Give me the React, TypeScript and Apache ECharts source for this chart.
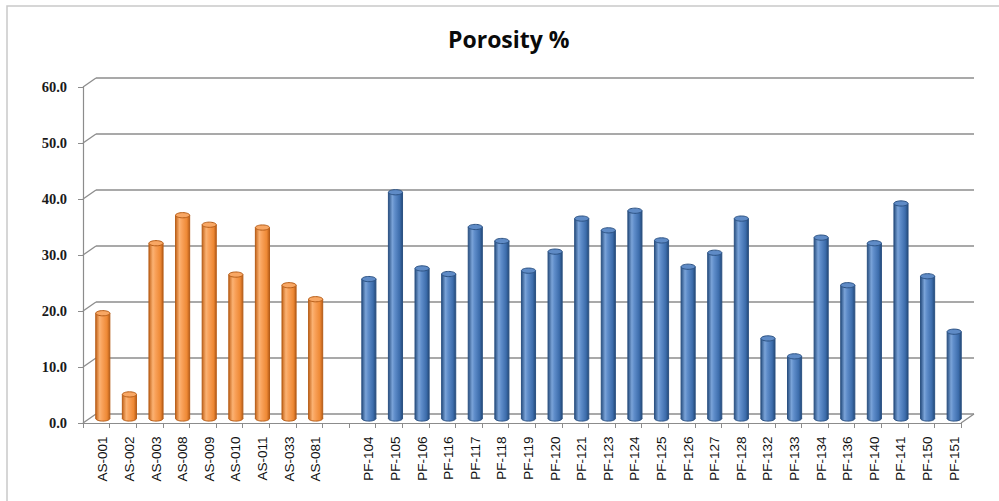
import React, { useEffect, useRef } from "react";
import * as echarts from "echarts";

// Sample names and porosity (%) for the two sample sets
const asSamples = ["AS-001", "AS-002", "AS-003", "AS-008", "AS-009", "AS-010", "AS-011", "AS-033", "AS-081"];
const asPorosity = [18.8, 4.3, 31.3, 36.3, 34.6, 25.7, 34.1, 23.8, 21.3];

const pfSamples = [
  "PF-104", "PF-105", "PF-106", "PF-116", "PF-117", "PF-118", "PF-119", "PF-120",
  "PF-121", "PF-123", "PF-124", "PF-125", "PF-126", "PF-127", "PF-128", "PF-132",
  "PF-133", "PF-134", "PF-136", "PF-140", "PF-141", "PF-150", "PF-151",
];
const pfPorosity = [
  24.9, 40.4, 26.8, 25.8, 34.2, 31.7, 26.4, 29.8,
  35.7, 33.6, 37.1, 31.8, 27.1, 29.6, 35.7, 14.3,
  11.1, 32.3, 23.8, 31.3, 38.4, 25.4, 15.5,
];

const yTicks = [0, 10, 20, 30, 40, 50, 60];

// one empty slot separates the two sets on the category axis
const categories = [...asSamples, "", ...pfSamples];

// depth offset of the pseudo-3D box (front face -> back wall)
const DX = 13;
const DY = 9;

const GRID_W = 878;
const GRID_H = 336;
const FRONT_LEFT = 83;
const FRONT_TOP = 87;

const AXIS_GREY = "#8c8c8c";

const palettes = [
  {
    body: [
      [0, "#c4651b"],
      [0.28, "#fbb273"],
      [0.45, "#f9a25b"],
      [0.8, "#ee8935"],
      [1, "#b95d18"],
    ],
    cap: "#f8a764",
    stroke: "#b65d18",
  },
  {
    body: [
      [0, "#284f80"],
      [0.28, "#7aa3d8"],
      [0.45, "#5f8dca"],
      [0.8, "#3d6dac"],
      [1, "#244a79"],
    ],
    cap: "#5f8bc6",
    stroke: "#2c5283",
  },
];

const barData = [
  ...asPorosity.map((v, i) => [i, v, 0]),
  ...pfPorosity.map((v, i) => [asSamples.length + 1 + i, v, 1]),
];

function gradient(stops: (string | number)[][]) {
  return {
    type: "linear",
    x: 0,
    y: 0,
    x2: 1,
    y2: 0,
    colorStops: stops.map(([offset, color]) => ({ offset, color })),
  };
}

export default function App() {
  const ref = useRef<HTMLDivElement>(null);

  useEffect(() => {
    if (!ref.current) return;
    const chart = echarts.init(ref.current, undefined, { renderer: "svg" });

    const valueAxisBase = { type: "value", min: 0, max: 60, interval: 10 };

    chart.setOption({
      animation: false,
      backgroundColor: "#ffffff",
      title: {
        text: "Porosity %",
        left: 443,
        top: 22,
        textStyle: {
          fontFamily: "Open Sans",
          fontWeight: "bold",
          fontSize: 23,
          color: "#0a0a0a",
        },
      },
      graphic: [
        {
          type: "rect",
          silent: true,
          shape: { x: 7, y: 6, width: 1000, height: 600 },
          style: { fill: "none", stroke: "#c9c9c9", lineWidth: 1.5 },
        },
      ],
      grid: [
        // back wall
        { left: FRONT_LEFT + DX, top: FRONT_TOP - DY, width: GRID_W, height: GRID_H },
        // front face (axes)
        { left: FRONT_LEFT, top: FRONT_TOP, width: GRID_W, height: GRID_H },
        // bars sit half way in depth
        { left: FRONT_LEFT + DX / 2, top: FRONT_TOP - DY / 2, width: GRID_W, height: GRID_H },
      ],
      xAxis: [
        { type: "category", gridIndex: 0, data: categories, show: false },
        {
          type: "category",
          gridIndex: 1,
          data: categories,
          axisLine: { show: true, lineStyle: { color: AXIS_GREY, width: 1.2 } },
          axisTick: { show: true, interval: 0, length: 5, lineStyle: { color: AXIS_GREY } },
          axisLabel: { show: false },
          splitLine: { show: false },
        },
        {
          type: "category",
          gridIndex: 2,
          data: categories,
          axisLine: { show: false },
          axisTick: { show: false },
          splitLine: { show: false },
          axisLabel: {
            show: true,
            interval: 0,
            rotate: 90,
            margin: 18,
            fontFamily: "Liberation Sans",
            fontSize: 13.5,
            color: "#111111",
          },
        },
      ],
      yAxis: [
        {
          ...valueAxisBase,
          gridIndex: 0,
          axisLine: { show: false },
          axisTick: { show: false },
          axisLabel: { show: false },
          splitLine: { show: true, lineStyle: { color: AXIS_GREY, width: 1.5 } },
        },
        {
          ...valueAxisBase,
          gridIndex: 1,
          axisLine: { show: true, lineStyle: { color: AXIS_GREY, width: 1.2 } },
          axisTick: { show: true, length: 5, lineStyle: { color: AXIS_GREY } },
          splitLine: { show: false },
          axisLabel: {
            margin: 16,
            formatter: (v: number) => v.toFixed(1),
            fontFamily: "Liberation Serif",
            fontWeight: "bold",
            fontSize: 14.5,
            color: "#1a1a1a",
          },
        },
        { ...valueAxisBase, gridIndex: 2, show: false },
      ],
      series: [
        {
          // side wall and floor edges joining the front axes to the back wall
          type: "custom",
          name: "walls",
          xAxisIndex: 1,
          yAxisIndex: 1,
          silent: true,
          z: 1,
          data: yTicks.map((v) => [0, v]),
          encode: { x: 0, y: 1 },
          renderItem: (params: any, api: any) => {
            const cs = params.coordSys;
            const y = api.coord([0, api.value(1)])[1];
            const lineStyle = { stroke: AXIS_GREY, lineWidth: 1.3 };
            const children: any[] = [
              {
                type: "line",
                shape: { x1: cs.x, y1: y, x2: cs.x + DX, y2: y - DY },
                style: lineStyle,
              },
            ];
            if (api.value(1) === 0) {
              children.push({
                type: "line",
                shape: { x1: cs.x + cs.width, y1: y, x2: cs.x + cs.width + DX, y2: y - DY },
                style: lineStyle,
              });
            }
            return { type: "group", children };
          },
        },
        {
          // cylinder columns
          type: "custom",
          name: "Porosity %",
          xAxisIndex: 2,
          yAxisIndex: 2,
          z: 3,
          data: barData,
          encode: { x: 0, y: 1 },
          renderItem: (params: any, api: any) => {
            const idx = api.value(0);
            const v = api.value(1);
            const pal = palettes[api.value(2)];
            const top = api.coord([idx, v]);
            const base = api.coord([idx, 0]);
            const w = api.size([1, 0])[0] * 0.53;
            const rx = w / 2;
            const ry = 2.6;
            const fill = gradient(pal.body);
            const sideStyle = { stroke: pal.stroke, lineWidth: 1 };
            return {
              type: "group",
              children: [
                {
                  type: "ellipse",
                  shape: { cx: base[0], cy: base[1], rx, ry },
                  style: { fill, stroke: pal.stroke, lineWidth: 1 },
                },
                {
                  type: "rect",
                  shape: { x: top[0] - rx, y: top[1], width: w, height: base[1] - top[1] },
                  style: { fill },
                },
                {
                  type: "line",
                  shape: { x1: top[0] - rx, y1: top[1], x2: base[0] - rx, y2: base[1] },
                  style: sideStyle,
                },
                {
                  type: "line",
                  shape: { x1: top[0] + rx, y1: top[1], x2: base[0] + rx, y2: base[1] },
                  style: sideStyle,
                },
                {
                  type: "ellipse",
                  shape: { cx: top[0], cy: top[1], rx, ry },
                  style: { fill: pal.cap, stroke: pal.stroke, lineWidth: 1 },
                },
              ],
            };
          },
        },
      ],
    });

    return () => chart.dispose();
  }, []);

  return (
    <div
      ref={ref}
      style={{ position: "fixed", left: 0, top: 0, width: 999, height: 501 }}
    />
  );
}
